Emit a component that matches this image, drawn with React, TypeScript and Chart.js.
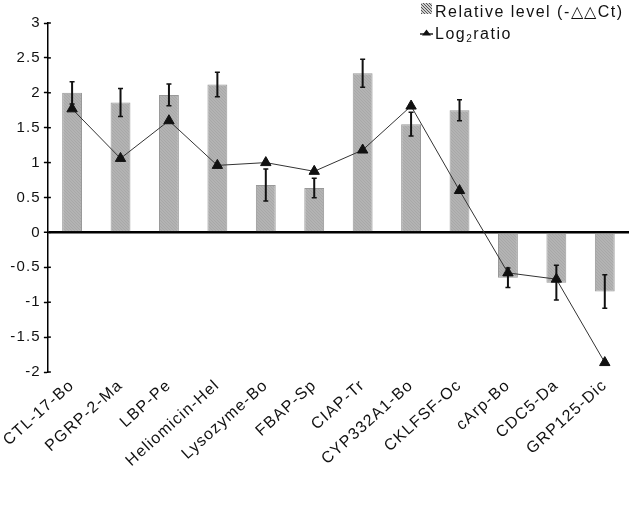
import React, { useEffect, useRef } from 'react';
import { Chart, registerables } from 'chart.js';

Chart.register(...registerables);

const categories = [
  'CTL-17-Bo', 'PGRP-2-Ma', 'LBP-Pe', 'Heliomicin-Hel', 'Lysozyme-Bo', 'FBAP-Sp',
  'CIAP-Tr', 'CYP332A1-Bo', 'CKLFSF-Oc', 'cArp-Bo', 'CDC5-Da', 'GRP125-Dic',
];
const relativeLevel = [2.0, 1.86, 1.97, 2.12, 0.68, 0.635, 2.28, 1.55, 1.75, -0.65, -0.72, -0.845];
const relativeError = [0.16, 0.2, 0.155, 0.175, 0.23, 0.14, 0.2, 0.17, 0.15, 0.14, 0.25, 0.24];
const log2Ratio = [1.77, 1.06, 1.6, 0.96, 1.0, 0.875, 1.18, 1.81, 0.6, -0.58, -0.67, -1.865];
const yMin = -2;
const yMax = 3;
const yStep = 0.5;
const legendBarLabel = 'Relative level (-\u25B3\u25B3Ct)';
const legendLineLabel = ['Log', '2', 'ratio'];

const FONT = 'Arial, "Liberation Sans", Helvetica, sans-serif';
const LS = '1.2px';

function makePattern(bg: string, fg: string, size: number) {
  const c = document.createElement('canvas');
  c.width = size;
  c.height = size;
  const g = c.getContext('2d')!;
  g.fillStyle = bg;
  g.fillRect(0, 0, size, size);
  g.strokeStyle = fg;
  g.lineWidth = 1;
  g.beginPath();
  g.moveTo(0, 0);
  g.lineTo(size, size);
  g.moveTo(-size, 0);
  g.lineTo(size, size * 2);
  g.moveTo(0, -size);
  g.lineTo(size * 2, size);
  g.stroke();
  return g.createPattern(c, 'repeat')!;
}

const spacingPlugin = {
  id: 'spacing',
  beforeLayout(chart: any) {
    chart.ctx.letterSpacing = LS;
  },
  beforeDraw(chart: any) {
    chart.ctx.letterSpacing = LS;
  },
};

const errorBarPlugin = {
  id: 'errorBars',
  afterDatasetDraw(chart: any, args: any) {
    if (args.index !== 0) return;
    const meta = chart.getDatasetMeta(0);
    const y = chart.scales.y;
    const ctx = chart.ctx;
    ctx.save();
    ctx.strokeStyle = '#111';
    meta.data.forEach((bar: any, i: number) => {
      const v = relativeLevel[i];
      const e = relativeError[i];
      const yt = y.getPixelForValue(v + e);
      const yb = y.getPixelForValue(v - e);
      const x = bar.x;
      ctx.lineWidth = 2;
      ctx.beginPath();
      ctx.moveTo(x, yt);
      ctx.lineTo(x, yb);
      ctx.stroke();
      ctx.lineWidth = 1.5;
      ctx.beginPath();
      ctx.moveTo(x - 2.5, yt);
      ctx.lineTo(x + 2.5, yt);
      ctx.moveTo(x - 2.5, yb);
      ctx.lineTo(x + 2.5, yb);
      ctx.stroke();
    });
    ctx.restore();
  },
};

const axisTicksPlugin = {
  id: 'innerTicks',
  afterDraw(chart: any) {
    const y = chart.scales.y;
    const ctx = chart.ctx;
    const x = chart.chartArea.left;
    ctx.save();
    ctx.strokeStyle = '#000';
    ctx.lineWidth = 1.5;
    y.ticks.forEach((t: any) => {
      const py = y.getPixelForValue(t.value);
      ctx.beginPath();
      ctx.moveTo(x, py);
      ctx.lineTo(x + 3, py);
      ctx.stroke();
    });
    ctx.restore();
  },
};

const legendPlugin = {
  id: 'customLegend',
  afterDraw(chart: any) {
    const ctx = chart.ctx;
    ctx.save();
    ctx.letterSpacing = '1.5px';
    ctx.fillStyle = makePattern('#d0d0d0', '#555', 3);
    ctx.fillRect(421, 3, 11, 11);
    ctx.fillStyle = '#111';
    ctx.font = `16px ${FONT}`;
    ctx.textBaseline = 'middle';
    ctx.textAlign = 'left';
    ctx.fillText(legendBarLabel, 435, 12.5);
    ctx.strokeStyle = '#222';
    ctx.lineWidth = 1.5;
    ctx.beginPath();
    ctx.moveTo(420, 34);
    ctx.lineTo(433, 34);
    ctx.stroke();
    ctx.fillStyle = '#111';
    ctx.beginPath();
    ctx.moveTo(426.5, 29.5);
    ctx.lineTo(431, 35.5);
    ctx.lineTo(422, 35.5);
    ctx.closePath();
    ctx.fill();
    ctx.font = `16px ${FONT}`;
    let x = 435;
    ctx.fillText(legendLineLabel[0], x, 35);
    x += ctx.measureText(legendLineLabel[0]).width;
    ctx.font = `10px ${FONT}`;
    ctx.fillText(legendLineLabel[1], x, 39);
    x += ctx.measureText(legendLineLabel[1]).width;
    ctx.font = `16px ${FONT}`;
    ctx.fillText(legendLineLabel[2], x, 35);
    ctx.restore();
  },
};

export default function App() {
  const ref = useRef<HTMLCanvasElement | null>(null);
  useEffect(() => {
    if (!ref.current) return;
    const barPattern = makePattern('#b3b3b3', '#a8a8a8', 3);
    const chart = new Chart(ref.current, {
      type: 'bar',
      data: {
        labels: categories,
        datasets: [
          {
            type: 'bar',
            label: legendBarLabel,
            data: relativeLevel,
            backgroundColor: barPattern,
            borderColor: '#999',
            borderWidth: 1,
            categoryPercentage: 0.82,
            barPercentage: 0.5,
            order: 1,
          },
          {
            type: 'line',
            label: 'Log2ratio',
            data: log2Ratio,
            borderColor: '#333',
            borderWidth: 1,
            pointStyle: 'triangle',
            pointRadius: 6,
            pointBackgroundColor: '#111',
            pointBorderColor: '#111',
            pointBorderWidth: 1,
            tension: 0,
            order: 0,
          },
        ],
      },
      options: {
        animation: false,
        responsive: true,
        maintainAspectRatio: false,
        layout: { padding: { top: 23, right: 6, left: 0, bottom: 0 } },
        plugins: {
          legend: { display: false },
          tooltip: { enabled: false },
        },
        scales: {
          x: {
            grid: { display: false, drawTicks: false },
            border: { display: false },
            ticks: {
              color: '#111',
              font: { family: FONT, size: 16 },
              minRotation: 42,
              maxRotation: 42,
              padding: 4,
              autoSkip: false,
            },
            afterFit: (s: any) => {
              s.height = 155;
            },
          },
          y: {
            min: yMin,
            max: yMax,
            ticks: {
              stepSize: yStep,
              color: '#111',
              font: { family: FONT, size: 15 },
              padding: 3,
              callback: (v: any) => String(Number(v)),
            },
            border: { display: true, color: '#000', width: 1.5 },
            grid: {
              drawOnChartArea: true,
              color: (c: any) => (c.tick && c.tick.value === 0 ? '#000' : 'rgba(0,0,0,0)'),
              lineWidth: (c: any) => (c.tick && c.tick.value === 0 ? 2.5 : 1),
              tickColor: '#000',
              tickWidth: 1.5,
              tickLength: 4,
            },
            afterFit: (s: any) => {
              s.width = 46;
            },
          },
        },
      },
      plugins: [spacingPlugin, errorBarPlugin, axisTicksPlugin, legendPlugin],
    });
    return () => chart.destroy();
  }, []);
  return (
    <div style={{ position: 'absolute', left: 0, top: 0, width: 636, height: 527, background: '#fff' }}>
      <canvas ref={ref} />
    </div>
  );
}
